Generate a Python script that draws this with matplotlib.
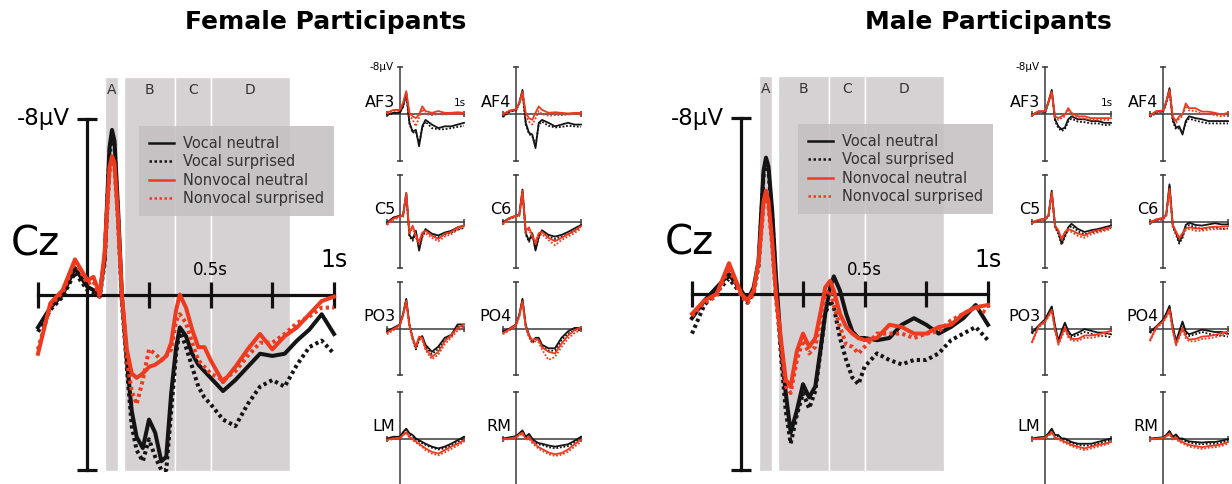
import matplotlib.pyplot as plt
from matplotlib.lines import Line2D

W, H = 1232, 484

# conditions (order of every series list below)
CONDITIONS = ['Vocal neutral', 'Vocal surprised', 'Nonvocal neutral', 'Nonvocal surprised']
COLORS = ['#141414', '#141414', '#ee3b1f', '#ee3b1f']
STYLES = ['-', (0, (0.8, 0.8)), '-', (0, (0.8, 0.8))]

# analysis windows (s)
WIN_LABELS = ['A', 'B', 'C', 'D']
WIN_START = [0.07, 0.15, 0.355, 0.5]
WIN_END = [0.125, 0.355, 0.5, 0.82]

# Cz waveforms (µV, negative up)
CZ_T = [-0.2, -0.15, -0.1, -0.05, 0, 0.025, 0.05, 0.07, 0.09, 0.1, 0.11, 0.125, 0.14,
        0.16, 0.18, 0.2, 0.225, 0.25, 0.275, 0.3, 0.32, 0.34, 0.36, 0.375, 0.4, 0.425,
        0.45, 0.475, 0.5, 0.55, 0.6, 0.65, 0.7, 0.75, 0.8, 0.85, 0.9, 0.95, 1.0]

F_CZ_VN = [1.5, 0.6, 0.0, -1.2, -0.35, -0.2, 0.0, -1.6, -6.7, -7.5, -7.0, -3.8, 0.0,
           3.0, 5.3, 6.5, 7.0, 5.7, 6.3, 7.6, 7.4, 4.5, 2.4, 1.5, 1.9, 2.7,
           3.2, 3.5, 3.8, 4.4, 3.9, 3.3, 2.7, 2.8, 2.7, 2.1, 1.6, 0.9, 1.8]
F_CZ_VS = [1.7, 0.7, 0.1, -1.0, -0.2, -0.1, 0.1, -1.4, -6.5, -7.3, -6.8, -3.5, 0.3,
           3.3, 6.0, 7.1, 7.6, 6.6, 7.4, 8.0, 8.0, 5.3, 2.7, 1.6, 2.4, 3.3,
           4.2, 4.7, 5.0, 5.7, 6.0, 5.0, 4.2, 3.9, 4.2, 3.2, 2.4, 2.1, 2.7]
F_CZ_NN = [2.7, 0.4, -0.2, -1.6, -0.65, -0.8, 0.0, -1.9, -5.8, -6.3, -6.0, -3.4, 0.0,
           2.5, 3.6, 3.8, 3.6, 3.3, 3.2, 3.0, 2.8, 2.2, 0.7, 0.0, 0.6, 1.6,
           2.4, 2.4, 3.0, 4.0, 3.3, 2.5, 1.8, 2.5, 1.9, 1.5, 0.9, 0.3, 0.1]
F_CZ_NS = [2.5, 0.5, -0.1, -1.5, -0.5, -0.6, 0.1, -1.7, -5.6, -6.1, -5.8, -3.2, 0.2,
           3.0, 4.4, 5.0, 3.9, 2.5, 2.7, 3.0, 2.8, 2.5, 1.2, 0.9, 1.3, 2.2,
           3.0, 3.3, 3.6, 3.9, 3.5, 2.8, 2.2, 2.2, 1.8, 1.3, 1.0, 0.6, 0.6]

M_CZ_VN = [1.1, 0.3, -0.3, -0.9, -0.15, 0.3, -0.3, -1.5, -5.6, -6.2, -5.8, -3.8, -0.9,
           2.3, 4.5, 6.3, 5.3, 4.1, 4.7, 4.2, 2.6, 0.9, -0.3, -0.8, -0.15, 0.9,
           1.7, 2.0, 2.0, 2.1, 2.0, 1.4, 1.1, 1.4, 1.8, 1.5, 1.1, 0.5, 1.4]
M_CZ_VS = [1.8, 0.5, -0.1, -0.7, 0.0, 0.4, -0.1, -1.3, -5.4, -6.1, -5.6, -3.5, -0.6,
           2.7, 5.3, 6.8, 5.5, 4.5, 5.2, 4.4, 2.7, 0.9, 0.3, 0.6, 2.0, 3.0,
           3.8, 4.1, 3.3, 2.7, 3.0, 3.2, 3.0, 3.0, 2.7, 2.1, 1.8, 1.5, 2.1]
M_CZ_NN = [0.9, 0.3, 0.0, -1.4, 0.0, 0.3, -0.15, -1.5, -4.2, -4.7, -4.2, -2.4, 0.0,
           2.0, 3.9, 4.2, 2.6, 1.8, 2.4, 2.0, 0.9, -0.3, -0.6, -0.15, 0.9, 1.5,
           1.8, 2.0, 2.1, 2.0, 1.4, 1.5, 1.8, 1.8, 1.5, 1.4, 0.9, 0.6, 0.5]
M_CZ_NS = [1.0, 0.4, 0.1, -1.2, 0.1, 0.4, 0.0, -1.3, -4.0, -4.5, -4.0, -2.2, 0.2,
           2.3, 4.2, 4.5, 3.0, 2.1, 2.7, 2.4, 1.2, 0.0, -0.15, 0.5, 1.5, 2.3,
           2.4, 2.7, 2.4, 1.8, 1.8, 1.8, 2.0, 1.8, 1.7, 1.2, 0.9, 0.6, 0.9]

# small electrode plots: (VN, VS, NN, NS) in µV
SM_T = [-0.2, -0.1, 0, 0.05, 0.1, 0.15, 0.2, 0.25, 0.3, 0.35, 0.4, 0.5, 0.6, 0.7, 0.8, 0.9, 1.0]
ELECTRODES = [['AF3', 'AF4'], ['C5', 'C6'], ['PO3', 'PO4'], ['LM', 'RM']]

F_AF3 = ([0.1, -0.2, -0.2, -1.3, -3.6, 1.5, 3.0, 2.7, 5.5, 2.1, 1.0, 1.8, 2.4, 2.1, 2.1, 1.8, 1.5],
         [0.2, -0.1, -0.3, -1.2, -3.4, 1.7, 3.2, 3.0, 5.0, 2.4, 1.3, 2.4, 2.6, 2.6, 2.4, 2.2, 2.0],
         [-0.2, -0.7, -0.7, -1.9, -3.9, -0.2, 0.4, 0.7, 0.1, -1.3, -0.5, -0.2, -0.5, -0.2, -0.2, -0.3, -0.2],
         [0.0, -0.5, -0.6, -1.7, -3.6, 0.3, 1.0, 2.1, 0.6, -0.8, 0.0, 0.2, 0.0, 0.1, 0.0, 0.0, 0.1])
F_AF4 = ([0.4, -0.5, -0.7, -1.9, -4.1, 1.5, 3.2, 3.5, 5.8, 1.5, 1.0, 1.5, 2.1, 1.8, 1.5, 1.8, 1.8],
         [0.5, -0.4, -0.6, -1.8, -3.9, 1.8, 3.4, 3.8, 5.4, 1.8, 1.3, 2.0, 2.3, 2.2, 2.0, 2.1, 2.2],
         [0.0, -0.6, -0.8, -1.9, -3.8, -0.2, 0.7, 1.0, -0.2, -1.3, -0.7, -0.2, -0.3, -0.2, -0.1, -0.2, -0.2],
         [0.2, -0.4, -0.6, -1.7, -3.5, 0.4, 1.3, 1.8, 0.8, -0.5, 0.0, 0.3, 0.2, 0.2, 0.1, 0.0, 0.1])
F_C5 = ([0.2, -0.7, -1.0, -1.0, -4.9, 2.4, 3.0, 1.6, 5.0, 2.4, 1.3, 2.1, 2.4, 1.9, 1.6, 1.0, 0.7],
        [0.3, -0.6, -0.9, -0.9, -4.6, 2.6, 3.3, 1.9, 4.6, 2.7, 1.6, 2.4, 2.7, 2.3, 1.9, 1.4, 1.1],
        [0.4, -0.5, -0.9, -1.1, -4.9, 1.9, 0.7, 2.4, 3.5, 1.9, 1.6, 2.4, 3.0, 2.1, 1.8, 1.0, 0.7],
        [0.6, -0.3, -0.7, -0.8, -4.5, 2.2, 1.0, 2.8, 3.9, 2.3, 2.0, 2.8, 3.4, 2.6, 2.2, 1.4, 1.0])
F_C6 = ([0.1, -0.6, -1.0, -1.2, -5.5, 2.0, 3.3, 2.0, 5.0, 2.6, 1.5, 2.3, 2.6, 2.3, 1.8, 1.2, 0.6],
        [0.2, -0.5, -0.9, -1.0, -5.2, 2.3, 3.5, 2.3, 4.7, 2.8, 1.8, 2.6, 3.0, 2.6, 2.2, 1.6, 1.0],
        [0.3, -0.6, -1.0, -1.1, -5.3, 1.6, 1.0, 2.4, 3.6, 2.0, 1.8, 2.8, 3.4, 2.8, 2.2, 1.6, 0.8],
        [0.5, -0.4, -0.8, -0.9, -5.0, 2.0, 1.4, 2.8, 4.0, 2.4, 2.2, 3.2, 4.1, 3.2, 2.6, 2.0, 1.2])
F_PO3 = ([0.5, -0.1, -0.7, -2.5, -5.1, -0.7, 1.6, 3.4, 1.6, 1.3, 2.8, 4.0, 3.1, 1.6, 1.1, -0.7, -0.7],
         [0.6, 0.0, -0.5, -2.3, -4.9, -0.4, 1.9, 3.6, 1.9, 1.6, 3.1, 4.4, 3.5, 2.0, 1.4, -0.3, -0.4],
         [0.7, 0.1, -0.6, -2.4, -4.8, -0.5, 1.6, 3.1, 1.4, 1.6, 3.4, 4.9, 4.0, 2.2, 1.1, -0.1, -0.7],
         [1.0, 0.3, -0.4, -2.1, -4.5, -0.2, 1.9, 3.4, 1.8, 2.0, 3.7, 5.3, 4.5, 2.7, 1.6, 0.4, -0.2])
F_PO4 = ([0.5, 0.0, -0.7, -2.4, -5.1, -0.6, 1.1, 2.2, 1.6, 1.6, 2.8, 3.4, 3.4, 1.6, 0.5, -0.1, -0.1],
         [0.7, 0.2, -0.5, -2.2, -4.9, -0.3, 1.4, 2.5, 1.9, 1.9, 3.1, 3.8, 3.8, 2.0, 0.9, 0.3, 0.3],
         [0.8, 0.1, -0.6, -2.3, -4.7, -0.4, 1.2, 2.0, 1.8, 2.0, 3.2, 4.0, 4.3, 2.6, 1.2, 0.3, -0.2],
         [1.0, 0.3, -0.4, -2.0, -4.4, -0.1, 1.5, 2.4, 2.2, 2.4, 3.6, 5.4, 4.9, 3.2, 1.7, 0.8, 0.2])
F_LM = ([0.0, -0.3, -0.3, -1.1, -1.7, -0.9, -0.6, 0.0, 0.3, 0.6, 0.9, 1.4, 1.7, 1.4, 0.9, 0.3, -0.3],
        [0.1, -0.2, -0.2, -0.9, -1.5, -0.7, -0.4, 0.2, 0.5, 0.8, 1.1, 1.6, 1.9, 1.7, 1.2, 0.6, 0.0],
        [0.2, 0.0, -0.1, -0.6, -1.1, -0.3, 0.1, 0.5, 0.9, 1.3, 1.7, 2.3, 2.6, 2.0, 1.4, 0.9, 0.3],
        [0.3, 0.1, 0.0, -0.5, -1.0, -0.1, 0.3, 0.7, 1.1, 1.5, 2.0, 2.6, 2.9, 2.4, 1.8, 1.2, 0.6])
F_RM = ([0.0, -0.2, -0.4, -0.9, -1.4, -0.3, -0.8, 0.0, 0.5, 0.8, 0.9, 1.2, 1.4, 1.2, 1.0, 0.4, -0.3],
        [0.1, -0.1, -0.3, -0.8, -1.2, -0.1, -0.6, 0.2, 0.7, 1.0, 1.1, 1.5, 1.7, 1.5, 1.3, 0.7, 0.0],
        [0.1, 0.0, -0.2, -0.7, -1.0, 0.1, -0.3, 0.5, 1.0, 1.5, 1.8, 2.4, 2.7, 2.5, 1.9, 1.0, 0.2],
        [0.2, 0.1, -0.1, -0.5, -0.8, 0.3, 0.0, 0.8, 1.3, 1.8, 2.1, 2.7, 3.0, 2.8, 2.3, 1.4, 0.6])

M_AF3 = ([0.1, -0.4, -0.4, -2.1, -4.1, 0.9, 2.1, 2.6, 2.3, 0.9, 0.4, 0.9, 0.9, 1.2, 1.2, 1.5, 1.5],
         [0.3, -0.3, -0.2, -1.9, -3.9, 1.2, 2.4, 2.9, 2.6, 1.3, 0.8, 1.3, 1.4, 1.6, 1.6, 1.9, 1.8],
         [0.2, -0.5, -0.5, -2.0, -3.8, 0.4, 0.7, 0.4, 0.1, -1.0, -0.2, 0.4, 0.4, 0.7, 0.7, 0.7, 0.7],
         [0.3, -0.3, -0.4, -1.8, -3.6, 0.6, 1.0, 0.7, 0.4, -0.6, 0.1, 0.7, 0.8, 1.0, 1.0, 1.0, 1.0])
M_AF4 = ([0.3, -0.4, -0.5, -2.0, -4.4, 0.9, 2.3, 2.1, 3.5, 1.2, 0.4, 0.7, 0.9, 1.2, 1.2, 1.2, 1.2],
         [0.5, -0.2, -0.3, -1.8, -4.1, 1.2, 2.6, 2.4, 3.2, 1.5, 0.8, 1.1, 1.4, 1.6, 1.6, 1.6, 1.6],
         [0.2, -0.5, -0.6, -2.1, -4.1, 0.4, 1.2, 0.4, 0.1, -1.8, -1.0, -1.0, -0.4, -0.4, -0.2, 0.1, -0.2],
         [0.4, -0.3, -0.4, -1.9, -3.9, 0.7, 1.5, 0.8, 0.4, -1.4, -0.6, -0.5, 0.0, 0.0, 0.2, 0.4, 0.2])
M_C5 = ([0.1, -0.2, -0.5, -1.0, -5.3, 0.7, 1.8, 3.8, 2.4, 1.0, 0.4, 1.3, 1.8, 1.5, 1.3, 1.0, 0.7],
        [0.2, -0.1, -0.4, -0.8, -5.0, 1.0, 2.1, 4.0, 2.7, 1.3, 0.8, 1.7, 2.2, 1.9, 1.7, 1.4, 1.1],
        [0.2, -0.3, -0.5, -1.1, -5.0, 0.7, 1.5, 3.0, 1.8, 1.3, 1.5, 2.1, 2.4, 1.8, 1.5, 1.3, 1.0],
        [0.3, -0.1, -0.3, -0.9, -4.8, 1.0, 1.8, 3.3, 2.1, 1.6, 1.8, 2.5, 2.8, 2.2, 1.9, 1.6, 1.3])
M_C6 = ([0.1, -0.3, -0.6, -1.2, -6.4, 0.6, 2.0, 3.5, 2.5, 0.6, 0.2, 0.6, 0.7, 0.5, 0.3, 0.5, 0.5],
        [0.3, -0.1, -0.4, -1.0, -6.0, 0.9, 2.3, 3.8, 2.8, 1.0, 0.6, 1.0, 1.3, 1.1, 1.0, 1.3, 1.2],
        [0.2, -0.4, -0.6, -1.2, -5.6, 0.6, 1.7, 2.8, 2.0, 1.2, 1.0, 1.2, 1.2, 1.0, 0.9, 0.9, 0.8],
        [0.4, -0.2, -0.4, -1.0, -5.3, 0.9, 2.0, 3.1, 2.3, 1.5, 1.3, 1.6, 1.6, 1.4, 1.3, 1.3, 1.2])
M_PO3 = ([0.7, -0.5, -1.6, -2.7, -3.8, -0.5, 2.1, 0.4, -1.0, 0.4, 1.2, 0.7, 0.1, 0.4, 0.7, 0.7, 1.0],
         [0.9, -0.3, -1.4, -2.5, -3.6, -0.2, 2.4, 0.7, -0.7, 0.7, 1.5, 1.1, 0.6, 0.9, 1.2, 1.3, 1.5],
         [2.3, -0.4, -1.3, -2.2, -3.2, 0.1, 2.6, 1.2, -0.2, 1.2, 1.8, 1.8, 1.2, 1.2, 1.0, 0.7, 0.4],
         [2.5, -0.2, -1.1, -2.0, -3.0, 0.4, 2.8, 1.5, 0.1, 1.5, 2.1, 2.1, 1.6, 1.6, 1.4, 1.1, 0.8])
M_PO4 = ([0.6, -0.4, -1.5, -2.6, -3.9, -0.4, 2.2, 0.5, -1.2, 0.5, 1.0, 0.6, 0.2, 0.4, 0.6, 0.6, 0.9],
         [0.8, -0.2, -1.3, -2.4, -3.7, -0.1, 2.5, 0.8, -0.9, 0.8, 1.3, 1.0, 0.6, 0.9, 1.1, 1.2, 1.4],
         [2.0, -0.3, -1.2, -2.1, -3.3, 0.2, 2.7, 1.3, -0.1, 1.3, 1.9, 1.8, 1.4, 1.3, 1.1, 0.8, 0.5],
         [2.2, -0.1, -1.0, -1.9, -3.1, 0.5, 2.9, 1.6, 0.2, 1.6, 2.2, 2.2, 1.8, 1.7, 1.5, 1.2, 0.9])
M_LM = ([0.0, -0.2, -0.3, -0.9, -1.7, -0.6, -0.6, 0.0, 0.0, 0.3, 0.6, 0.9, 0.9, 0.9, 0.6, 0.3, 0.0],
        [0.1, -0.1, -0.2, -0.7, -1.5, -0.4, -0.4, 0.2, 0.2, 0.5, 0.8, 1.1, 1.2, 1.2, 0.9, 0.6, 0.3],
        [0.1, 0.0, -0.2, -0.6, -1.1, -0.2, 0.0, 0.3, 0.6, 0.8, 1.1, 1.4, 1.7, 1.4, 1.1, 0.9, 0.6],
        [0.2, 0.1, -0.1, -0.4, -0.9, 0.0, 0.2, 0.5, 0.8, 1.0, 1.3, 1.7, 2.0, 1.7, 1.4, 1.1, 0.8])
M_RM = ([0.0, -0.1, -0.2, -0.6, -1.3, -0.3, -0.7, 0.0, 0.0, 0.3, 0.5, 0.6, 0.7, 0.6, 0.6, 0.4, 0.1],
        [0.1, 0.0, -0.1, -0.5, -1.1, -0.1, -0.5, 0.2, 0.2, 0.5, 0.7, 0.9, 1.0, 0.9, 0.9, 0.7, 0.4],
        [0.1, 0.0, -0.1, -0.4, -0.9, 0.0, -0.2, 0.4, 0.6, 0.9, 1.1, 1.3, 1.5, 1.3, 1.2, 1.0, 0.6],
        [0.2, 0.1, 0.0, -0.3, -0.7, 0.2, 0.0, 0.6, 0.8, 1.1, 1.4, 1.6, 1.8, 1.6, 1.5, 1.3, 0.9])

FEMALE_SMALL = {'AF3': F_AF3, 'AF4': F_AF4, 'C5': F_C5, 'C6': F_C6,
                'PO3': F_PO3, 'PO4': F_PO4, 'LM': F_LM, 'RM': F_RM}
MALE_SMALL = {'AF3': M_AF3, 'AF4': M_AF4, 'C5': M_C5, 'C6': M_C6,
              'PO3': M_PO3, 'PO4': M_PO4, 'LM': M_LM, 'RM': M_RM}

GRAY = '#d6d1d3'
DRAW_ORDER = [1, 0, 3, 2]


def px_axes(fig, x0, x1, y0, y1):
    # axes whose box spans t=-0.2..1.0 and -8..8 µV at the given pixel box
    ax = fig.add_axes([x0 / W, 1 - y1 / H, (x1 - x0) / W, (y1 - y0) / H])
    ax.set_xlim(-0.2, 1.0)
    ax.set_ylim(8, -8)
    ax.patch.set_visible(False)
    return ax


def style_axes(ax, lw, color, xticks, xtick_len, cap_len):
    ax.spines['top'].set_visible(False)
    ax.spines['right'].set_visible(False)
    for side in ('left', 'bottom'):
        ax.spines[side].set_position(('data', 0))
        ax.spines[side].set_linewidth(lw)
        ax.spines[side].set_color(color)
    ax.set_xticks(xticks)
    ax.set_yticks([-8, 8])
    ax.tick_params(axis='x', direction='inout', length=xtick_len, width=lw,
                   color=color, labelbottom=False)
    ax.tick_params(axis='y', direction='inout', length=cap_len, width=lw,
                   color=color, labelleft=False)


def draw_cz(fig, box, series, legend_xy):
    ax = px_axes(fig, *box)
    for label, t0, t1 in zip(WIN_LABELS, WIN_START, WIN_END):
        ax.axvspan(t0, t1, ymin=-0.003, ymax=1.119, facecolor=GRAY,
                   edgecolor='white', lw=1.0, zorder=0, clip_on=False)
        ax.text((t0 + t1) / 2, -9.3, label, ha='center', va='center',
                fontsize=10, color='#333333')
    style_axes(ax, 2.3, '#111111', [-0.2, 0.25, 0.5, 0.75, 1.0], 19, 14)
    for i in DRAW_ORDER:
        ax.plot(CZ_T, series[i], color=COLORS[i], ls=STYLES[i], lw=2.9,
                zorder=3, clip_on=False)

    ax.text(-0.31, -2.3, 'Cz', ha='left', va='center', fontsize=29)
    ax.text(-0.07, -8, '-8µV', ha='right', va='center', fontsize=16.5)
    ax.text(0.5, -1.1, '0.5s', ha='center', va='center', fontsize=12)
    ax.text(1.0, -1.55, '1s', ha='center', va='center', fontsize=17)

    handles = [Line2D([], [], color=c, ls=s if s == '-' else (0, (1, 1)), lw=1.8)
               for c, s in zip(COLORS, STYLES)]
    leg = ax.legend(handles, CONDITIONS, loc='upper left',
                    bbox_to_anchor=(legend_xy[0] / W, 1 - legend_xy[1] / H),
                    bbox_transform=fig.transFigure, fontsize=10.5, fancybox=False,
                    borderaxespad=0, borderpad=0.7, handlelength=1.7,
                    handletextpad=0.6, labelspacing=0.22)
    leg.get_frame().set_facecolor('#c4bfc1')
    leg.get_frame().set_edgecolor('none')
    leg.get_frame().set_alpha(0.85)
    for txt in leg.get_texts():
        txt.set_color('#333333')


def draw_small(fig, cols, rows, small):
    for r, (y0, y1) in enumerate(rows):
        for c, (x0, x1) in enumerate(cols):
            name = ELECTRODES[r][c]
            ax = px_axes(fig, x0, x1, y0, y1)
            style_axes(ax, 1.1, '#3a3a3a', [-0.2, 1.0], 4, 5)
            series = small[name]
            for i in DRAW_ORDER:
                ax.plot(SM_T, series[i], color=COLORS[i],
                        ls='-' if STYLES[i] == '-' else (0, (1, 1)),
                        lw=1.3, zorder=3, clip_on=False)
            ax.text(-0.07, -2.0, name, ha='right', va='center', fontsize=11.5)
            if r == 0 and c == 0:
                ax.text(-0.09, -8, '-8µV', ha='right', va='center', fontsize=7.5)
                ax.text(0.93, -1.9, '1s', ha='center', va='center', fontsize=7.5)


fig = plt.figure(figsize=(W / 100, H / 100), dpi=100)

ROWS = [(67, 161), (175, 268), (282, 375), (392, 485)]

fig.text(326 / W, 1 - 22 / H, 'Female Participants', ha='center', va='center',
         fontsize=18, fontweight='bold')
draw_cz(fig, (38, 334, 119, 470), [F_CZ_VN, F_CZ_VS, F_CZ_NN, F_CZ_NS], (139, 126))
draw_small(fig, [(387, 464), (503, 581)], ROWS, FEMALE_SMALL)

fig.text(988 / W, 1 - 22 / H, 'Male Participants', ha='center', va='center',
         fontsize=18, fontweight='bold')
draw_cz(fig, (692, 988, 118, 470), [M_CZ_VN, M_CZ_VS, M_CZ_NN, M_CZ_NS], (798, 124))
draw_small(fig, [(1032, 1111), (1150, 1228)], ROWS, MALE_SMALL)

fig.savefig('out.png', dpi=100)
